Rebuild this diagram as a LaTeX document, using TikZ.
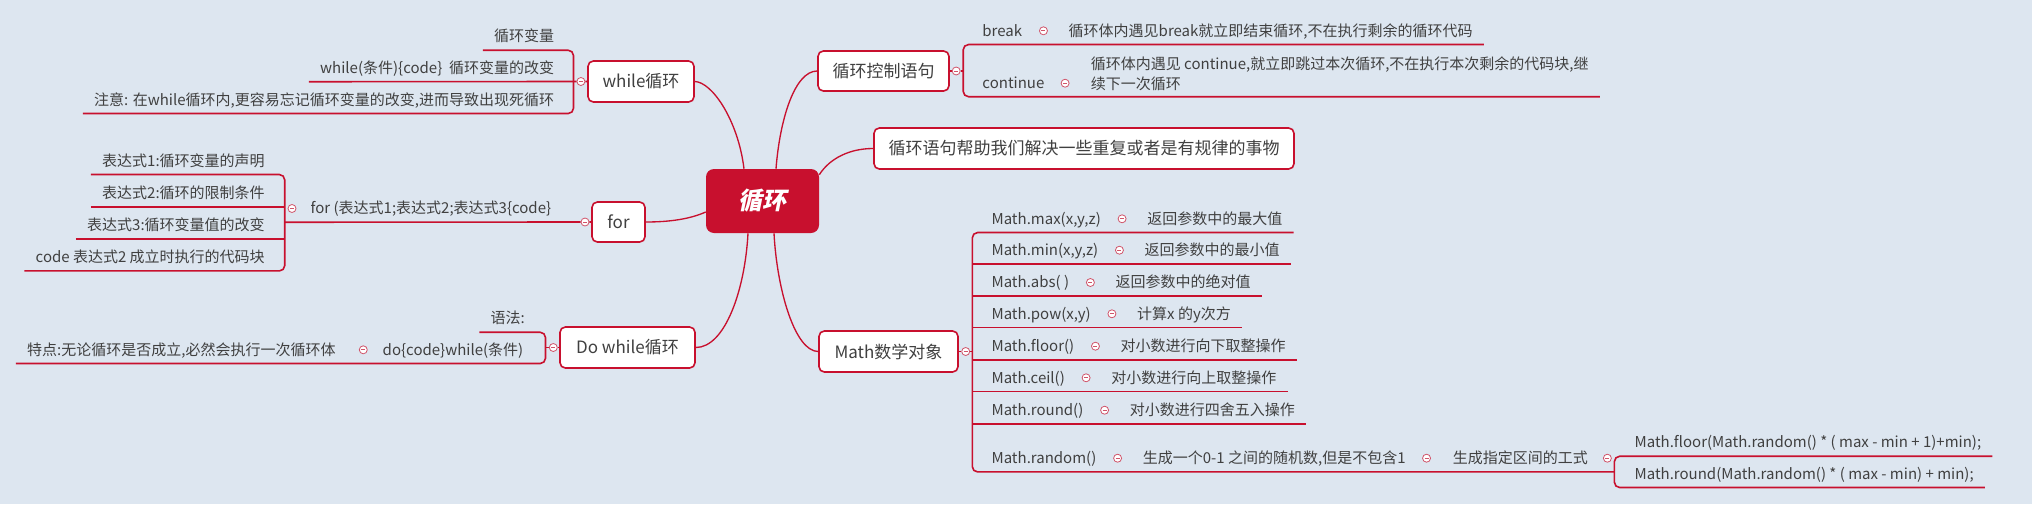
\documentclass[tikz,border=0pt]{standalone}
\usepackage{fontspec}
\setmainfont{Noto Sans CJK SC}
\newfontfamily\centerfont[FakeSlant=0.2]{Noto Sans CJK SC}
\usetikzlibrary{calc}
\definecolor{crim}{RGB}{200,16,46}
\definecolor{bgc}{RGB}{221,230,240}
\definecolor{txt}{RGB}{64,64,64}
\definecolor{cmark}{RGB}{208,84,106}
\pgfdeclarelayer{bglayer}
\pgfdeclarelayer{linelayer}
\pgfsetlayers{bglayer,linelayer,main}
\tikzset{
 mainbox/.style={draw=crim, fill=white, line width=1.2pt, rounded corners=4pt, inner sep=0pt, text=txt, font=\fontsize{12.75pt}{15pt}\selectfont},
 centerbox/.style={fill=crim, rounded corners=6pt, inner sep=0pt, text=white, font=\centerfont\bfseries\fontsize{18pt}{20pt}\selectfont, minimum width=84.75pt, minimum height=48pt},
 leaf/.style={inner xsep=8.25pt, inner ysep=4.6pt, text height=9.5pt, text depth=1.5pt, text=txt, font=\fontsize{11.25pt}{14.5pt}\selectfont},
 collapse/.style={circle, draw=cmark, fill=white, line width=0.6pt, minimum size=6pt, inner sep=0pt, path picture={\draw[cmark, line width=0.6pt] ($(path picture bounding box.center)+(-2,0)$) -- ($(path picture bounding box.center)+(2,0)$);}},
 br/.style={draw=crim, line width=1.2pt, rounded corners=4pt},
 link/.style={draw=crim, line width=1pt},
}
\begin{document}
\begin{tikzpicture}[x=0.75pt,y=-0.75pt]
\begin{pgfonlayer}{bglayer}
\fill[bgc] (0,0) rectangle (2032,504);
\end{pgfonlayer}
\useasboundingbox (0,0) rectangle (2032,504);

% main nodes
\node[centerbox] (c) at (762.5,201) {循环};
\node[mainbox, minimum width=79.5pt, minimum height=30.75pt] (wh) at (641,81.5) {while循环};
\node[mainbox, minimum width=98.25pt, minimum height=30pt] (ct) at (883.5,71) {循环控制语句};
\node[mainbox, minimum width=315pt, minimum height=30.75pt] (hp) at (1084,148.5) {循环语句帮助我们解决一些重复或者是有规律的事物};
\node[mainbox, minimum width=39.75pt, minimum height=30pt] (fr) at (618.5,222) {for};
\node[mainbox, minimum width=101.25pt, minimum height=30.75pt] (dw) at (627.5,347.5) {Do while循环};
\node[mainbox, minimum width=104.25pt, minimum height=30.75pt] (mt) at (888.5,351.5) {Math数学对象};

% while branch
\coordinate (wbx) at (573.5,0);
\node[collapse] (wc) at (580.9,81.5) {};
\node[leaf, anchor=east] (w1) at (565.3,36.5) {循环变量};
\node[leaf, anchor=east] (w2) at (565.3,68) {while(条件)\{code\}\ \ 循环变量的改变};
\node[leaf, anchor=east] (w3) at (565.3,99.8) {注意: 在while循环内,更容易忘记循环变量的改变,进而导致出现死循环};

% for branch
\coordinate (fbx) at (284.7,0);
\node[collapse] (fc) at (585,222) {};
\node[leaf, anchor=west] (ft) at (299.4,208.5) {for (表达式1;表达式2;表达式3\{code\}};
\node[collapse] (fc2) at ($(ft.west)+(-7.4,0)$) {};
\node[leaf, anchor=east] (f1) at (276,160.8) {表达式1:循环变量的声明};
\node[leaf, anchor=east] (f2) at (276,193.2) {表达式2:循环的限制条件};
\node[leaf, anchor=east] (f3) at (276,225.2) {表达式3:循环变量值的改变};
\node[leaf, anchor=east] (f4) at (276,257.2) {code 表达式2 成立时执行的代码块};

% do while branch
\coordinate (dbx) at (545.5,0);
\node[collapse] (dc) at (553.3,347.5) {};
\node[leaf, anchor=east] (d1) at (536,318.5) {语法:};
\node[leaf, anchor=east] (d2) at (534.5,349.8) {do\{code\}while(条件)};
\node[collapse] (dc2) at ($(d2.west)+(-8.2,0)$) {};
\node[leaf, anchor=east] (d3) at ($(dc2)+(-16.5,0)$) {特点:无论循环是否成立,必然会执行一次循环体};

% control branch
\coordinate (cbx) at (963.2,0);
\node[collapse] (cc) at (956.2,71) {};
\node[leaf, anchor=west] (k1) at (971.2,30.8) {break};
\node[collapse] (kc1) at ($(k1.east)+(10,0)$) {};
\node[leaf, anchor=west] (k1d) at ($(kc1)+(14,0)$) {循环体内遇见break就立即结束循环,不在执行剩余的循环代码};
\node[leaf, anchor=west] (k2) at (971.2,83.2) {continue};
\node[collapse] (kc2) at ($(k2.east)+(9.5,0)$) {};
\node[anchor=south west, inner sep=0pt, align=left, text=txt, font=\fontsize{11.25pt}{14.55pt}\selectfont] (k2d) at ($(kc2)+(25.5,7.5)$) {循环体内遇见 continue,就立即跳过本次循环,不在执行本次剩余的代码块,继\\续下一次循环};
\coordinate (k2e) at ($(k2d.south east)+(11,6)$);

% math branch
\coordinate (mbx) at (972.3,0);
\node[collapse] (mc) at (965.7,351.5) {};
\foreach \i/\yy/\nm/\ds in {1/218.8/{Math.max(x,y,z)}/{返回参数中的最大值},
  2/250.2/{Math.min(x,y,z)}/{返回参数中的最小值},
  3/282.5/{Math.abs( )}/{返回参数中的绝对值},
  4/313.8/{Math.pow(x,y)}/{计算x 的y次方},
  5/346.2/{Math.floor()}/{对小数进行向下取整操作},
  6/377.8/{Math.ceil()}/{对小数进行向上取整操作},
  7/410.2/{Math.round()}/{对小数进行四舍五入操作},
  8/458.2/{Math.random()}/{生成一个0-1 之间的随机数,但是不包含1}}{
  \node[leaf, anchor=west] (m\i) at (980.3,\yy) {\nm};
  \node[collapse] (mc\i) at ($(m\i.east)+(10,0)$) {};
  \node[leaf, anchor=west] (md\i) at ($(mc\i)+(14,0)$) {\ds};
}
\node[collapse] (mc8b) at ($(md8.east)+(9.7,0)$) {};
\node[leaf, anchor=west] (gen) at ($(mc8b)+(15,0)$) {生成指定区间的工式};
\node[collapse] (mc8c) at ($(gen.east)+(8.3,0)$) {};
\coordinate (sbx) at ($(mc8c)+(7,0)$);
\node[leaf, anchor=west] (s1) at ($(sbx)+(9,-15.7)$) {Math.floor(Math.random() * ( max - min + 1)+min);};
\node[leaf, anchor=west] (s2) at ($(sbx)+(9,15.6)$) {Math.round(Math.random() * ( max - min) + min);};

\begin{pgfonlayer}{linelayer}
% center connectors
\draw[link] ($(c.north)+(-18.5,0)$) .. controls (738,120) and (712,82) .. (wh.east);
\draw[link] ($(c.north)+(13.5,0)$) .. controls (780,118) and (795,71) .. (ct.west);
\draw[link] ($(c.north east)+(0,6)$) .. controls (830,158) and (850,148.5) .. (hp.west);
\draw[link] ($(c.west)+(0,11)$) .. controls (690,219) and (670,222) .. (fr.east);
\draw[link] ($(c.south)+(-14.5,0)$) .. controls (745,290) and (725,347.5) .. (dw.east);
\draw[link] ($(c.south)+(11.5,0)$) .. controls (777,290) and (795,351.5) .. (mt.west);
% while
\draw[br] (w1.south west) -- (w1.south -| wbx) -- (w3.south -| wbx) -- (w3.south west);
\draw[br] (w2.south west) -- (wc) -- (wh.west);
% for
\draw[br] (f1.south west) -- (f1.south -| fbx) -- (f4.south -| fbx) -- (f4.south west);
\draw[br] (f2.south west) -- (f2.south -| fbx);
\draw[br] (f3.south west) -- (f3.south -| fbx);
\draw[br] (ft.south -| fbx) -- (fc) -- (fr.west);
% do while
\draw[br] (d1.south west) -- (d1.south -| dbx) -- (d2.south -| dbx) -- (d3.south west);
\draw[br] (dbx |- dc) -- (dc) -- (dw.west);
% control
\draw[br] (k1d.south east) -- (k1d.south -| cbx) -- (k2e -| cbx) -- (k2e);
\draw[br] (ct.east) -- (cc) -- (cc -| cbx);
% math
\draw[br] (md1.south east) -- (md1.south -| mbx) -- (m8.south -| mbx) -- (m8.south -| sbx);
\foreach \i in {2,...,7} \draw[br] (mbx |- md\i.south) -- (md\i.south east);
\draw[br] (mt.east) -- (mc) -- (mc -| mbx);
\draw[br] (s1.south east) -- (s1.south -| sbx) -- (s2.south -| sbx) -- (s2.south east);
\end{pgfonlayer}
\end{tikzpicture}
\end{document}
